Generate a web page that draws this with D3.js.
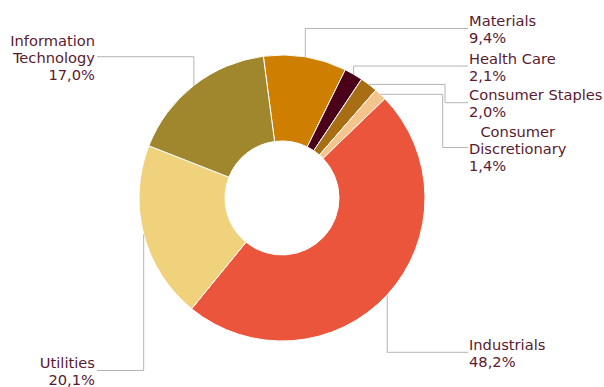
<!DOCTYPE html>
<html>
<head>
<meta charset="utf-8">
<script src="https://cdn.jsdelivr.net/npm/d3@7"></script>
<style>
  html, body { margin: 0; padding: 0; background: #fff; }
  svg { display: block; }
  text { font-family: "DejaVu Sans", Verdana, sans-serif; font-size: 14.67px; fill: #5a1a30; }
</style>
</head>
<body>
<svg id="chart" width="604" height="387"></svg>
<script>
// Sector weights (%)
const categories = ["Materials", "Health Care", "Consumer Staples", "Consumer Discretionary",
                    "Industrials", "Utilities", "Information Technology"];
const values = [9.4, 2.1, 2.0, 1.4, 48.2, 20.1, 17.0];
const valueLabels = ["9,4%", "2,1%", "2,0%", "1,4%", "48,2%", "20,1%", "17,0%"];
const nameLines = [["Materials"], ["Health Care"], ["Consumer Staples"], ["Consumer", "Discretionary"],
                   ["Industrials"], ["Utilities"], ["Information", "Technology"]];
const colors = ["#cf7f00", "#4a0019", "#a86e14", "#f3c48c", "#ea553b", "#f0d27d", "#a0862c"];

// Label placement: side, y of the leader's last segment, optional elbow x
const labelLayout = [
  { side: "right", y: 28.5 },
  { side: "right", y: 66 },
  { side: "right", y: 102.7, elbowX: 445 },
  { side: "right", y: 147.5, elbowX: 442.7 },
  { side: "right", y: 352.3 },
  { side: "left",  y: 370.5 },
  { side: "left",  y: 56.7 }
];

const cx = 282, cy = 198, outerR = 143, innerR = 57;
const rightX = 469, leftX = 95, lineH = 17;
const start = -7.5 * Math.PI / 180;

const svg = d3.select("#chart");
const g = svg.append("g").attr("transform", `translate(${cx},${cy})`);

const data = categories.map((c, i) => ({ name: c, value: values[i], i }));
const pie = d3.pie().value(d => d.value).sort(null)
  .startAngle(start).endAngle(start + 2 * Math.PI);
const arcs = pie(data);
const arc = d3.arc().innerRadius(innerR).outerRadius(outerR);

// Leader lines (behind slices)
const leaders = svg.append("g");
const slices = g.append("g");

slices.selectAll("path").data(arcs).join("path")
  .attr("d", arc)
  .attr("fill", d => colors[d.data.i])
  .attr("stroke", "#fff")
  .attr("stroke-width", 1);

const labels = svg.append("g");

arcs.forEach(a => {
  const i = a.data.i;
  const L = labelLayout[i];
  const mid = (a.startAngle + a.endAngle) / 2;
  const ax = cx + outerR * Math.sin(mid);
  const ay = cy - outerR * Math.cos(mid);
  const tx = L.side === "right" ? rightX - 1 : leftX + 2;
  let pts;
  if (L.elbowX !== undefined) {
    pts = [[ax, ay], [L.elbowX, ay], [L.elbowX, L.y], [tx, L.y]];
  } else {
    pts = [[ax, ay], [ax, L.y], [tx, L.y]];
  }
  leaders.append("path")
    .attr("d", d3.line()(pts))
    .attr("fill", "none")
    .attr("stroke", "#b4b4b4")
    .attr("stroke-width", 1);

  const lines = nameLines[i].concat([valueLabels[i]]);
  const first = L.y - (lines.length - 1) * lineH / 2 + 6;
  const anchor = L.side === "right" ? "start" : "end";
  const x0 = L.side === "right" ? rightX : leftX;
  const texts = lines.map((t, k) => labels.append("text")
    .attr("x", x0)
    .attr("y", first + k * lineH)
    .attr("text-anchor", anchor)
    .text(t));

  // multi-line names on the right are centred within the name block
  if (L.side === "right" && nameLines[i].length > 1) {
    const nameTexts = texts.slice(0, nameLines[i].length);
    const w = d3.max(nameTexts, t => t.node().getComputedTextLength());
    nameTexts.forEach(t => t.attr("text-anchor", "middle").attr("x", x0 + w / 2));
  }
});
</script>
</body>
</html>
